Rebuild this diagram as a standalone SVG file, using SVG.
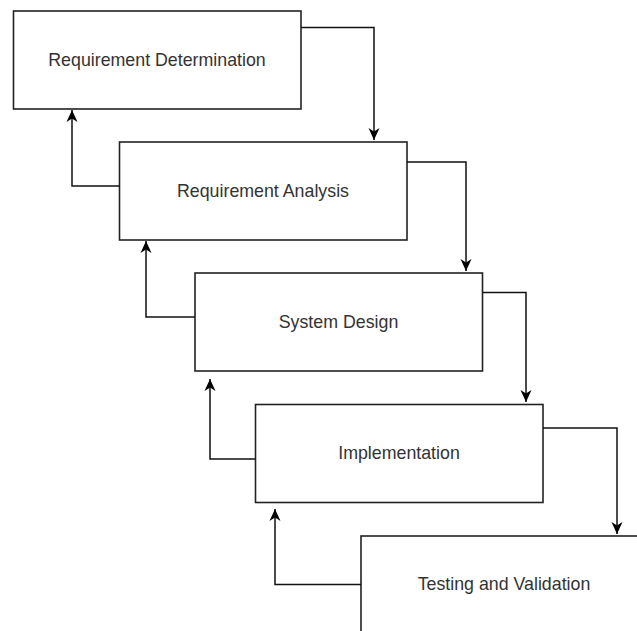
<svg xmlns="http://www.w3.org/2000/svg" width="637" height="631" viewBox="0 0 637 631">
<defs>
<marker id="arr" markerUnits="userSpaceOnUse" markerWidth="14" markerHeight="14" viewBox="0 0 14 14" refX="12" refY="7" orient="auto">
<path d="M0,1.5 L12,7 L0,12.5 L3.5,7 Z" fill="#000"/>
</marker>
<style>
.box{fill:#fff;stroke:#222;stroke-width:1.6}
.lbl{font-family:"Liberation Sans",Arial,sans-serif;font-size:17.8px;fill:#333;text-anchor:middle;dominant-baseline:central}
.edge{fill:none;stroke:#111;stroke-width:1.5;marker-end:url(#arr)}
</style>
</defs>
<rect width="637" height="631" fill="#fff"/>
<g id="n1"><rect class="box" x="13.5" y="11" width="287.5" height="98"/><text class="lbl" x="157" y="60">Requirement Determination</text></g>
<g id="n2"><rect class="box" x="119.5" y="142" width="287.5" height="98"/><text class="lbl" x="263" y="191">Requirement Analysis</text></g>
<g id="n3"><rect class="box" x="195" y="273" width="287.5" height="98"/><text class="lbl" x="338.5" y="322">System Design</text></g>
<g id="n4"><rect class="box" x="255.5" y="404.5" width="287.5" height="98"/><text class="lbl" x="399" y="453">Implementation</text></g>
<g id="n5"><rect class="box" x="361" y="536" width="287.5" height="98"/><text class="lbl" x="504" y="584">Testing and Validation</text></g>
<g id="connectors">
<path class="edge" d="M301,27.5 H374 V140"/>
<path class="edge" d="M407,162 H466 V271"/>
<path class="edge" d="M482.5,292.5 H526 V402"/>
<path class="edge" d="M543,428 H617 V534"/>
<path class="edge" d="M119.5,186 H72 V110"/>
<path class="edge" d="M195,317 H146 V241"/>
<path class="edge" d="M255.5,459 H210 V379"/>
<path class="edge" d="M361,584.5 H275 V509"/>
</g>
</svg>
